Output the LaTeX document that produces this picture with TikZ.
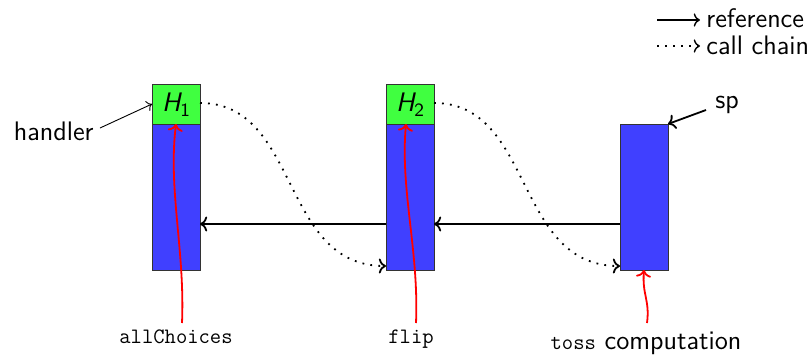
\documentclass[tikz,border=0pt]{standalone}
\usepackage{tikz}
\usetikzlibrary{arrows.meta}
\definecolor{hgreen}{RGB}{64,255,64}
\definecolor{sblue}{RGB}{64,64,255}
\begin{document}
\begin{tikzpicture}[x=0.5pt,y=-0.5pt,
  font=\fontsize{13.4}{15}\sffamily,
  hbox/.style={draw=black!80,fill=hgreen,line width=0.6pt,minimum width=24pt,minimum height=20pt,inner sep=0pt,anchor=north west},
  sbox/.style={draw=black!80,fill=sblue,line width=0.6pt,minimum width=24pt,inner sep=0pt,anchor=north west},
  refarrow/.style={->,line width=0.9pt},
  callarrow/.style={->,line width=0.9pt,dash pattern=on 0.9pt off 3.1pt},
  redarrow/.style={->,red,line width=0.9pt},
  ttlabel/.style={font=\fontsize{11}{12}\ttfamily}]
\useasboundingbox (0,0) rectangle (812,354);
% stack frames
\node[sbox,minimum height=73pt] (f1) at (152,124) {};
\node[hbox] (h1) at (152,84) {\slshape H\textsubscript{\upshape 1}};
\node[sbox,minimum height=73pt] (f2) at (386,124) {};
\node[hbox] (h2) at (386,84) {\slshape H\textsubscript{\upshape 2}};
\node[sbox,minimum height=73pt] (f3) at (620,124) {};
% reference arrows
\coordinate (r3) at (620,224);
\coordinate (r2l) at (386,224);
\coordinate (r2r) at (434,224);
\coordinate (r1) at (200,224);
\draw[refarrow] (r3) -- (r2r);
\draw[refarrow] (r2l) -- (r1);
% call chain
\coordinate (c1s) at (200,103);
\coordinate (c1e) at (386,266);
\coordinate (c2s) at (434,103);
\coordinate (c2e) at (620,266);
\draw[callarrow] (c1s) .. controls (300,103) and (280,266) .. (c1e);
\draw[callarrow] (c2s) .. controls (534,103) and (514,266) .. (c2e);
% handler
\node[anchor=base east,inner sep=0pt] (hl) at (94,140) {handler};
\coordinate (hend) at (152,104);
\draw[->,line width=0.45pt] (100,128) -- (hend);
% sp
\node[anchor=base west,inner sep=0pt] (sp) at (715,108) {sp};
\coordinate (spend) at (668,124);
\draw[->,line width=0.9pt] (706,110) -- (spend);
% bottom labels
\node[ttlabel,anchor=base] (lab1) at (176,343) {allChoices};
\node[ttlabel,anchor=base] (lab2) at (411,343) {flip};
\node[anchor=base] (lab3) at (646,349) {{\fontsize{11}{12}\ttfamily toss} computation};
\coordinate (t1) at (176,124);
\coordinate (t2) at (406,124);
\coordinate (t3) at (644,270);
\draw[redarrow] (182,323) .. controls (185,250) and (168,190) .. (t1);
\draw[redarrow] (416,323) .. controls (419,250) and (400,190) .. (t2);
\draw[redarrow] (647,323) .. controls (650,300) and (642,295) .. (t3);
% legend
\node[anchor=base west,inner sep=0pt] (leg1) at (706,27) {reference};
\node[anchor=base west,inner sep=0pt] (leg2) at (706,54) {call chain};
\draw[refarrow,line width=0.7pt] (657,20) -- (700,20);
\draw[callarrow,line width=0.7pt] (657,46) -- (700,46);
\end{tikzpicture}
\end{document}
